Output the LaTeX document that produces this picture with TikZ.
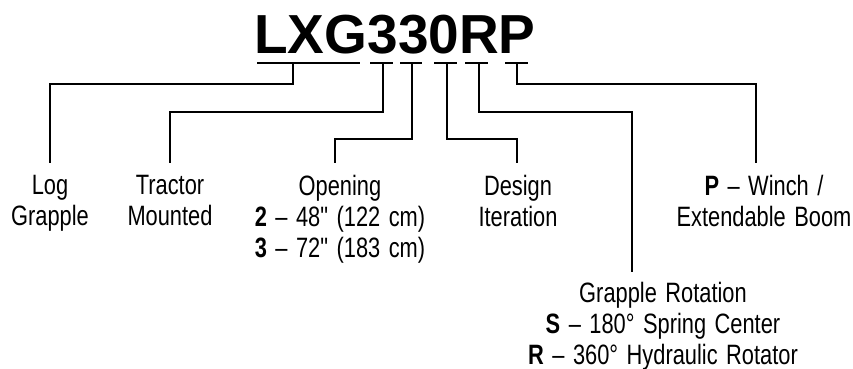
\documentclass[tikz,border=0pt]{standalone}
\usepackage{fontspec}
\setmainfont{Liberation Sans}
\newfontfamily\narrowfont[FakeStretch=0.78,WordSpace=1.4]{Liberation Sans}
\usetikzlibrary{positioning}

\begin{document}
\begin{tikzpicture}[x=1pt,y=-1pt,line width=1.1pt,
  lbl/.style={align=center,anchor=north,inner sep=0pt,
    font=\narrowfont\fontsize{28}{31}\selectfont}]
  \useasboundingbox (0,0) rectangle (853,368);

  \node[font=\bfseries\fontsize{55}{55}\selectfont,anchor=base,inner sep=0pt] (code) at (395,53) {LXG330RP};

  % bars under the letters
  \foreach \a/\b/\t/\n in {257/360/293/lxg, 370/393/383/trc, 400/422/412/opn,
                           434/457/447/des, 465/488/479/rot, 505/528/517/wnc}
  {
    \draw (\a,63) -- (\b,63);
    \coordinate (\n) at (\t,63);
  }

  \node[lbl] (log) at (50,175) {Log\\Grapple};
  \node[lbl] (tractor) at (170,175) {Tractor\\Mounted};
  \node[lbl] (opening) at (340,175) {Opening\\\textbf{2} – 48" (122 cm)\\\textbf{3} – 72" (183 cm)};
  \node[lbl] (design) at (518,175) {Design\\Iteration};
  \node[lbl] (winch) at (764,175) {\textbf{P} – Winch /\\Extendable Boom};
  \node[lbl] (rotation) at (663,282) {Grapple Rotation\\\textbf{S} – 180° Spring Center\\\textbf{R} – 360° Hydraulic Rotator};

  \draw (lxg) -- ++(0,21) -| ([yshift=12pt]log.north);
  \draw (trc) -- ++(0,49) -| ([yshift=12pt]tractor.north);
  \draw (opn) -- ++(0,76) -| ([xshift=-5pt,yshift=12pt]opening.north);
  \draw (des) -- ++(0,76) -| ([xshift=-1pt,yshift=12pt]design.north);
  \draw (rot) -- ++(0,49) -| ([xshift=-31pt,yshift=10pt]rotation.north);
  \draw (wnc) -- ++(0,21) -| ([xshift=-8pt,yshift=12pt]winch.north);
\end{tikzpicture}
\end{document}
